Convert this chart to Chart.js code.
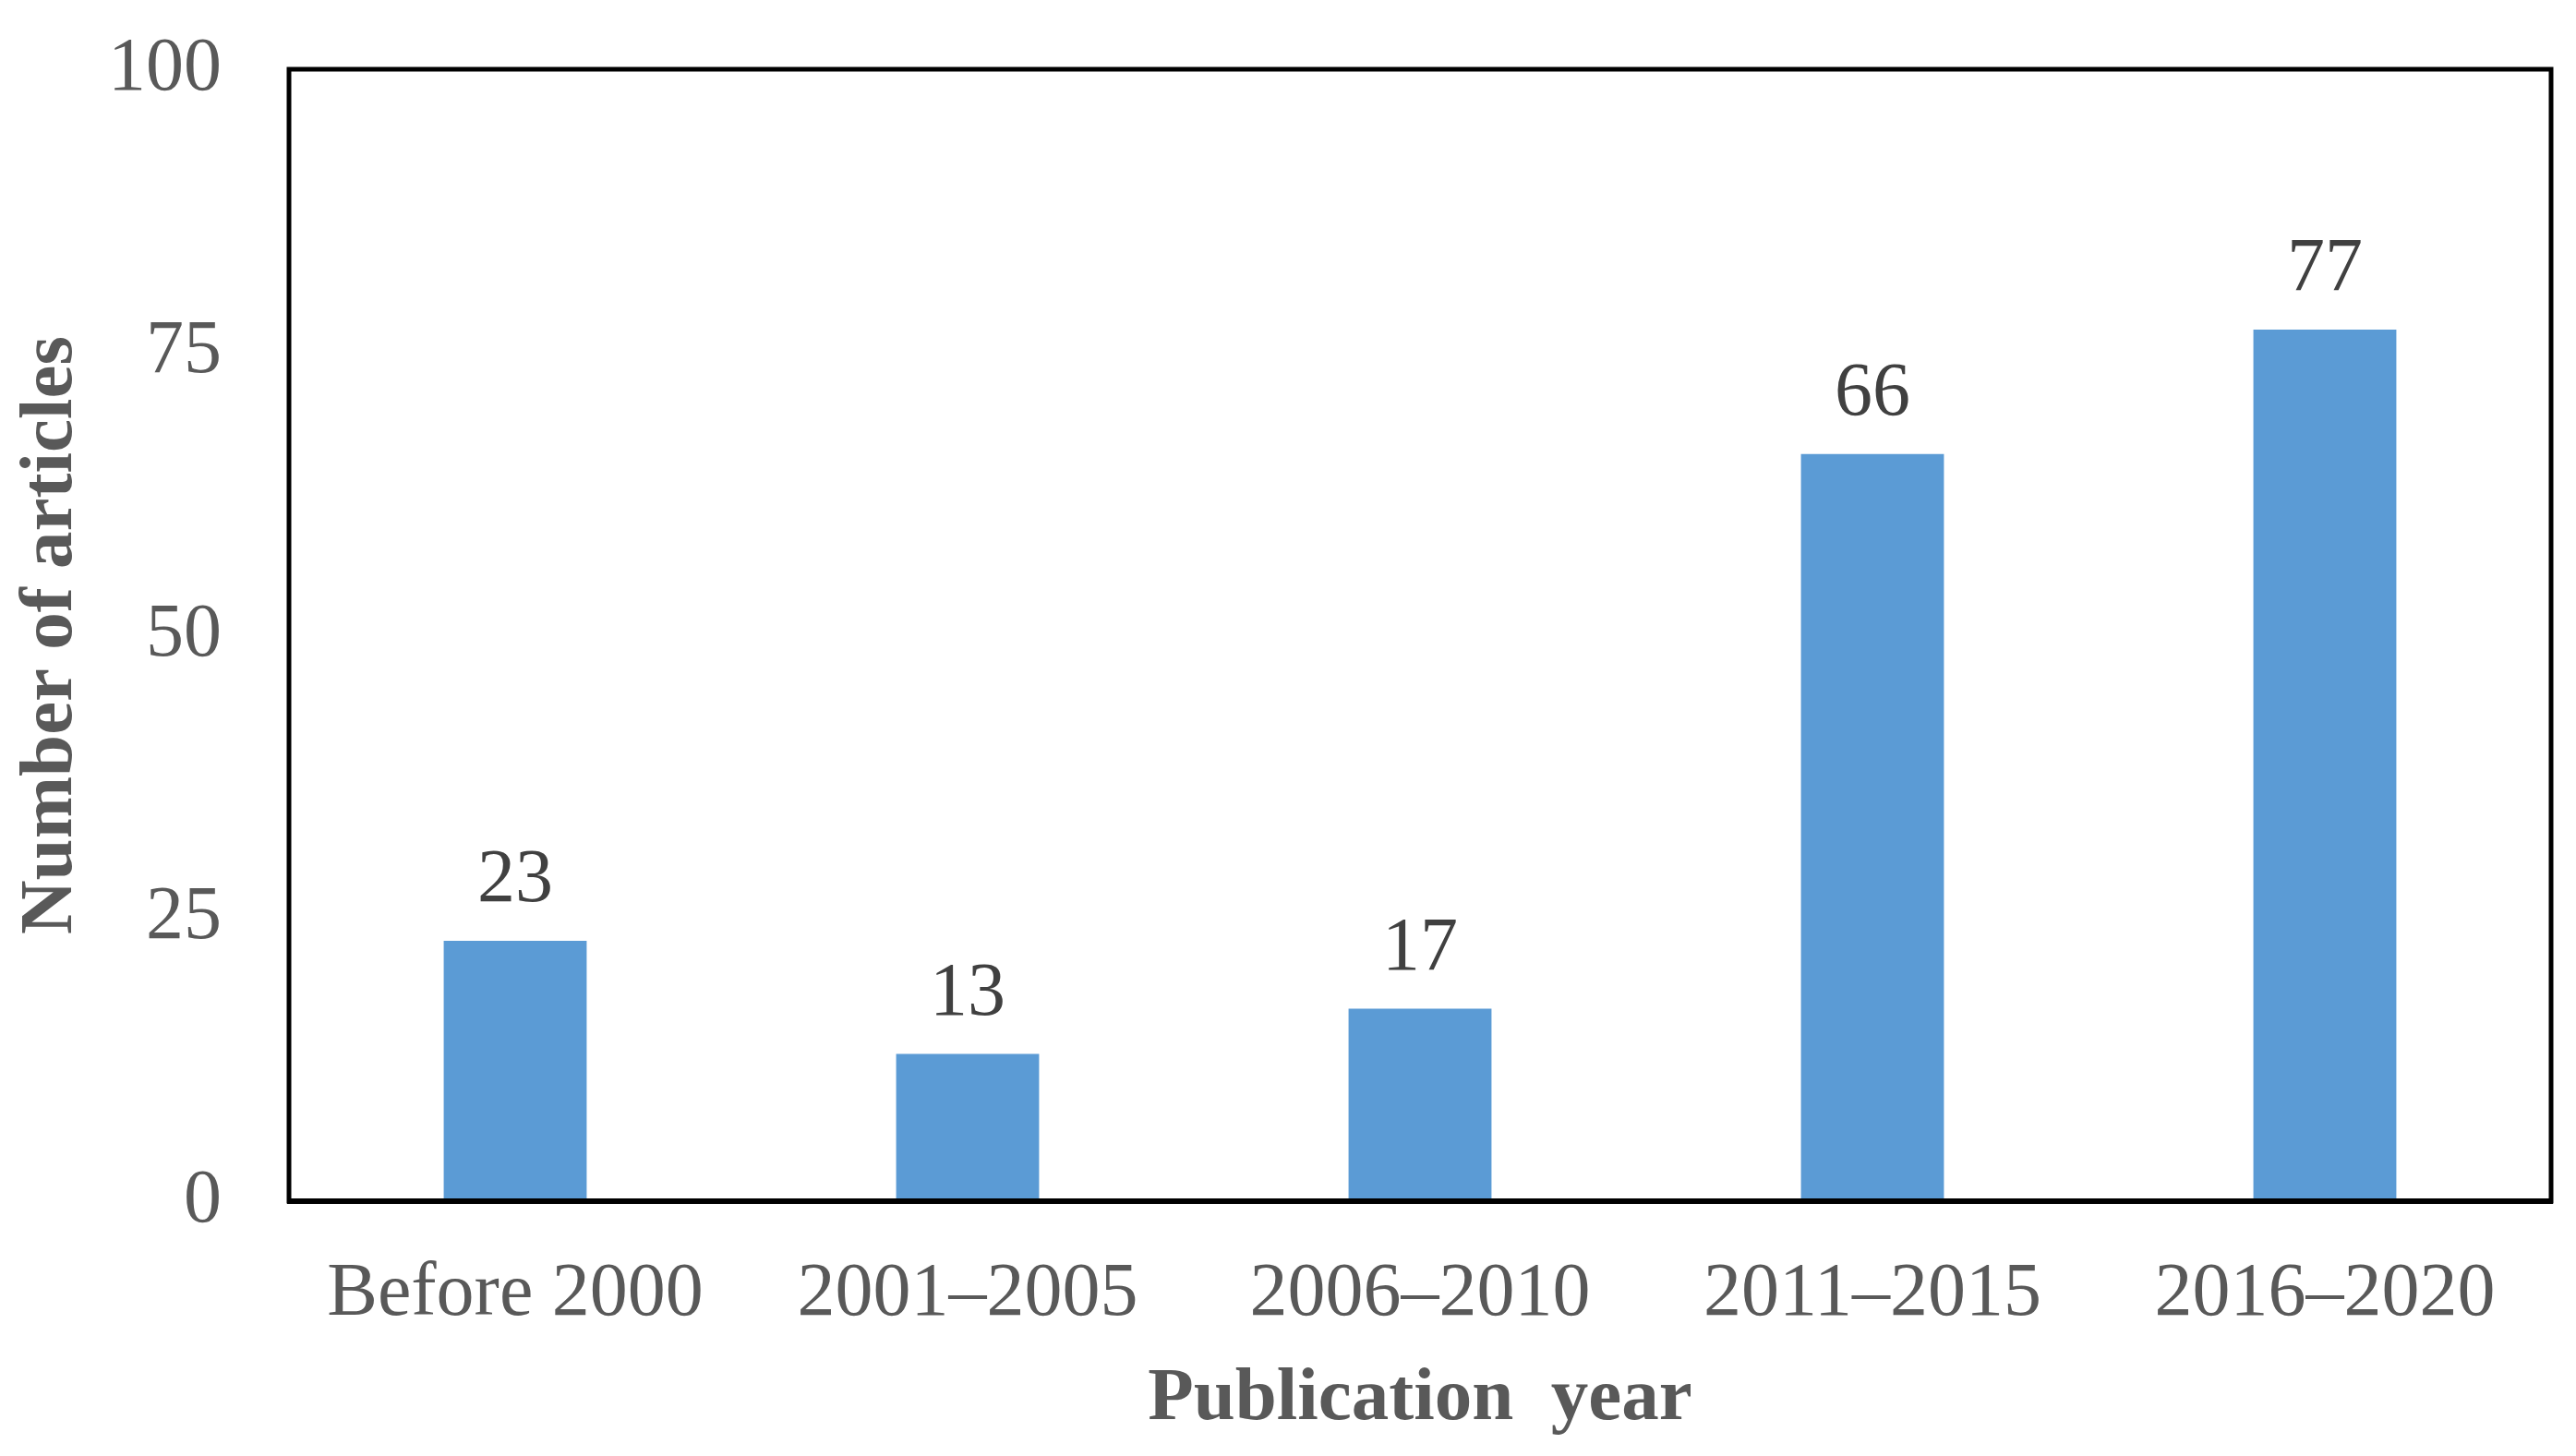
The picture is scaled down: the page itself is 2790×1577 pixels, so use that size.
<!DOCTYPE html>
<html>
<head>
<meta charset="utf-8">
<script src="https://cdn.jsdelivr.net/npm/chart.js@4.4.1/dist/chart.umd.min.js"></script>
<style>
  html, body { margin: 0; padding: 0; background: #ffffff; }
  #wrap { width: 2790px; height: 1577px; }
</style>
</head>
<body>
<div id="wrap"><canvas id="c" width="2790" height="1577"></canvas></div>
<script>
const categories = ['Before 2000', '2001\u20132005', '2006\u20132010', '2011\u20132015', '2016\u20132020'];
const articleCounts = [23, 13, 17, 66, 77];
const yTickValues = [0, 25, 50, 75, 100];

const FONT = "'Liberation Serif', 'Times New Roman', serif";

const frameAndLabels = {
  id: 'frameAndLabels',
  afterDatasetsDraw(chart) {
    const ctx = chart.ctx;
    const a = chart.chartArea;
    ctx.save();
    ctx.strokeStyle = '#000000';
    ctx.lineWidth = 5;
    ctx.strokeRect(a.left, a.top, a.right - a.left, a.bottom - a.top);
    ctx.lineWidth = 6;
    ctx.beginPath();
    ctx.moveTo(a.left - 2, a.bottom);
    ctx.lineTo(a.right + 2, a.bottom);
    ctx.stroke();
    const meta = chart.getDatasetMeta(0);
    ctx.fillStyle = '#404040';
    ctx.font = '82px ' + FONT;
    ctx.textAlign = 'center';
    ctx.textBaseline = 'alphabetic';
    meta.data.forEach((bar, i) => {
      ctx.fillText(String(chart.data.datasets[0].data[i]), bar.x, bar.y - 43);
    });
    ctx.restore();
  }
};

new Chart(document.getElementById('c'), {
  type: 'bar',
  data: {
    labels: categories,
    datasets: [{
      data: articleCounts,
      backgroundColor: '#5B9BD5',
      borderWidth: 0,
      categoryPercentage: 1,
      barPercentage: 0.316
    }]
  },
  plugins: [frameAndLabels],
  options: {
    responsive: false,
    animation: false,
    devicePixelRatio: 1,
    layout: { padding: { left: 0, right: 27, top: 75, bottom: 0 } },
    plugins: { legend: { display: false }, tooltip: { enabled: false } },
    scales: {
      x: {
        grid: { display: false, drawTicks: false },
        border: { display: false },
        ticks: {
          color: '#595959',
          font: { family: FONT, size: 82, lineHeight: 1 },
          padding: 60,
          maxRotation: 0,
          autoSkip: false
        },
        title: {
          display: true,
          text: 'Publication  year',
          color: '#595959',
          font: { family: FONT, size: 81, weight: 'bold', lineHeight: 1 },
          padding: { top: 0, bottom: 20 }
        },
        afterFit(scale) { scale.height = 276; scale.paddingLeft = 0; scale.paddingRight = 0; }
      },
      y: {
        min: 0,
        max: 100,
        grid: { display: false, drawTicks: false },
        border: { display: false },
        afterBuildTicks(scale) { scale.ticks = yTickValues.map(v => ({ value: v })); },
        ticks: {
          color: '#595959',
          font: { family: FONT, size: 82, lineHeight: 1 },
          padding: 73
        },
        title: {
          display: true,
          text: 'Number of articles',
          color: '#595959',
          font: { family: FONT, size: 81, weight: 'bold', lineHeight: 1 },
          padding: { top: 16, bottom: 0 }
        },
        afterFit(scale) { scale.width = 313; scale.paddingTop = 0; scale.paddingBottom = 0; }
      }
    }
  }
});
</script>
</body>
</html>
